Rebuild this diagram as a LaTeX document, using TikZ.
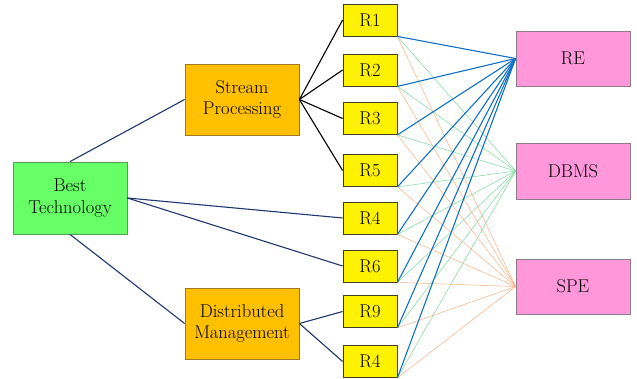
\documentclass[tikz,border=0pt]{standalone}
\usepackage{fix-cm}
\begin{document}
\begin{tikzpicture}[x=1pt,y=-1pt,
  box/.style={draw, inner sep=0pt, align=center, font=\fontsize{18.5}{21.5}\selectfont, line width=0.8pt},
  tech/.style={box, fill=techgreen, draw=techgreenline, minimum width=114pt, minimum height=72pt},
  mid/.style={box, fill=midorange, draw=midline, minimum width=114pt, minimum height=71pt},
  rbox/.style={box, fill=yellow, draw=rline, minimum width=54pt, minimum height=32pt},
  target/.style={box, fill=tpink, draw=tline, minimum width=114pt, minimum height=55pt},
  navyline/.style={draw=navy, line width=1.1pt},
  blackline/.style={draw=black, line width=1.1pt},
  reline/.style={draw=reblue, line width=1.1pt},
  dbline/.style={draw=dbgreen, line width=0.5pt},
  speline/.style={draw=speorange, line width=0.5pt}
]
\definecolor{techgreen}{HTML}{66FF66}
\definecolor{techgreenline}{HTML}{5A9A5A}
\definecolor{midorange}{HTML}{FFC000}
\definecolor{midline}{HTML}{A07A20}
\definecolor{rline}{HTML}{404020}
\definecolor{tpink}{HTML}{FF97DA}
\definecolor{tline}{HTML}{8E7A88}
\definecolor{navy}{HTML}{1F3770}
\definecolor{reblue}{HTML}{1070C8}
\definecolor{dbgreen}{HTML}{7CD8A0}
\definecolor{speorange}{HTML}{F8B080}
\useasboundingbox (0,0) rectangle (637,379);

\node[tech] (bt) at (70,198) {Best\\Technology};
\node[mid] (sp) at (242,99.5) {Stream\\Processing};
\node[mid] (dm) at (242,323.5) {Distributed\\Management};

\node[rbox] (r1) at (370,20) {R1};
\node[rbox] (r2) at (370,70) {R2};
\node[rbox] (r3) at (370,118.5) {R3};
\node[rbox] (r5) at (370,170.5) {R5};
\node[rbox] (r4a) at (370,218) {R4};
\node[rbox] (r6) at (370,266) {R6};
\node[rbox] (r9) at (370,311.5) {R9};
\node[rbox] (r4b) at (370,361.5) {R4};

\node[target] (re) at (573,58.5) {RE};
\node[target, minimum height=56pt] (db) at (573,171) {DBMS};
\node[target] (spe) at (573,286.5) {SPE};

\foreach \r in {r1,r2,r3,r5,r4a,r6,r9,r4b} {
  \draw[speline] (\r.south east) -- (spe.west);
  \draw[dbline] (\r.south east) -- (db.west);
}
\foreach \r in {r1,r2,r3,r5,r4a,r6,r9,r4b} {
  \draw[reline] (\r.south east) -- (re.west);
}

\draw[navyline] (bt.north) -- (sp.west);
\draw[navyline] (bt.south) -- (dm.west);
\draw[navyline] (bt.east) -- (r4a.west);
\draw[navyline] (bt.east) -- (r6.west);

\foreach \r in {r1,r2,r3,r5} {
  \draw[blackline] (sp.east) -- (\r.west);
}
\draw[navyline] (dm.east) -- (r9.west);
\draw[navyline] (dm.east) -- (r4b.west);
\end{tikzpicture}
\end{document}
